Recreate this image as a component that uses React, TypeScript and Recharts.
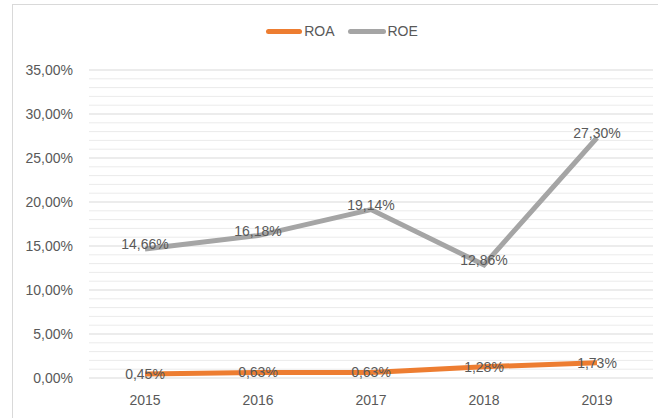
import { LineChart, Line, XAxis, YAxis, CartesianGrid, ReferenceLine, LabelList } from 'recharts'

const years = ['2015', '2016', '2017', '2018', '2019']
const roa = [0.45, 0.63, 0.63, 1.28, 1.73]
const roe = [14.66, 16.18, 19.14, 12.86, 27.3]
const yTicks = [0, 5, 10, 15, 20, 25, 30, 35]
const minorTicks = [1, 2, 3, 4, 6, 7, 8, 9, 11, 12, 13, 14, 16, 17, 18, 19, 21, 22, 23, 24, 26, 27, 28, 29, 31, 32, 33, 34]

const data = years.map((year, i) => ({ year, roa: roa[i], roe: roe[i] }))

const FONT = '"Liberation Sans", Arial, sans-serif'
const TEXT = '#595959'
const ORANGE = '#ED7D31'
const GRAY = '#A5A5A5'

const pct = (v: number) => `${v.toFixed(2).replace('.', ',')}%`

const makeLabel = (dy: number) => (props: any) => {
  const { x, y, value } = props
  return (
    <text x={x} y={y + dy} textAnchor="middle" dominantBaseline="central" fill={TEXT} fontSize={14} fontFamily={FONT}>
      {pct(value)}
    </text>
  )
}

const Legend = () => (
  <div style={{ position: 'absolute', left: 0, top: 23, width: 658, display: 'flex', justifyContent: 'center', fontFamily: FONT, fontSize: 14, color: TEXT }}>
    <div style={{ display: 'flex', alignItems: 'center', marginLeft: 26 }}>
      <span style={{ width: 36, height: 5, borderRadius: 3, background: ORANGE, display: 'inline-block', marginRight: 2 }} />
      <span>ROA</span>
      <span style={{ width: 38, height: 5, borderRadius: 3, background: GRAY, display: 'inline-block', marginLeft: 13, marginRight: 2 }} />
      <span>ROE</span>
    </div>
  </div>
)

export default function App() {
  return (
    <div style={{ position: 'absolute', left: 0, top: 0, width: 658, height: 418, overflow: 'hidden', background: '#fff' }}>
      <div style={{ position: 'absolute', left: 12, top: 4, width: 700, height: 500, border: '1px solid #D9D9D9' }} />
      <Legend />
      <LineChart
        width={658}
        height={418}
        data={data}
        margin={{ top: 70, right: 5, left: 0, bottom: 10 }}
        style={{ position: 'absolute', left: 0, top: 0 }}
      >
        <CartesianGrid stroke="#D9D9D9" vertical={false} />
        {minorTicks.map(v => (
          <ReferenceLine key={v} y={v} stroke="#EBEBEB" strokeWidth={1} />
        ))}
        <XAxis
          dataKey="year"
          height={30}
          padding={{ left: 56, right: 56 }}
          axisLine={false}
          tickLine={false}
          tickSize={0}
          tickMargin={17}
          tick={{ fill: TEXT, fontSize: 14, fontFamily: FONT }}
        />
        <YAxis
          domain={[0, 35]}
          ticks={yTicks}
          width={89}
          axisLine={false}
          tickLine={false}
          tickSize={0}
          tickMargin={16}
          tickFormatter={pct}
          tick={{ fill: TEXT, fontSize: 14, fontFamily: FONT }}
        />
        <Line
          type="linear"
          dataKey="roa"
          stroke={ORANGE}
          strokeWidth={5}
          dot={false}
          isAnimationActive={false}
        >
          <LabelList dataKey="roa" content={makeLabel(0)} />
        </Line>
        <Line
          type="linear"
          dataKey="roe"
          stroke={GRAY}
          strokeWidth={5}
          dot={false}
          isAnimationActive={false}
        >
          <LabelList dataKey="roe" content={makeLabel(-5)} />
        </Line>
      </LineChart>
    </div>
  )
}
